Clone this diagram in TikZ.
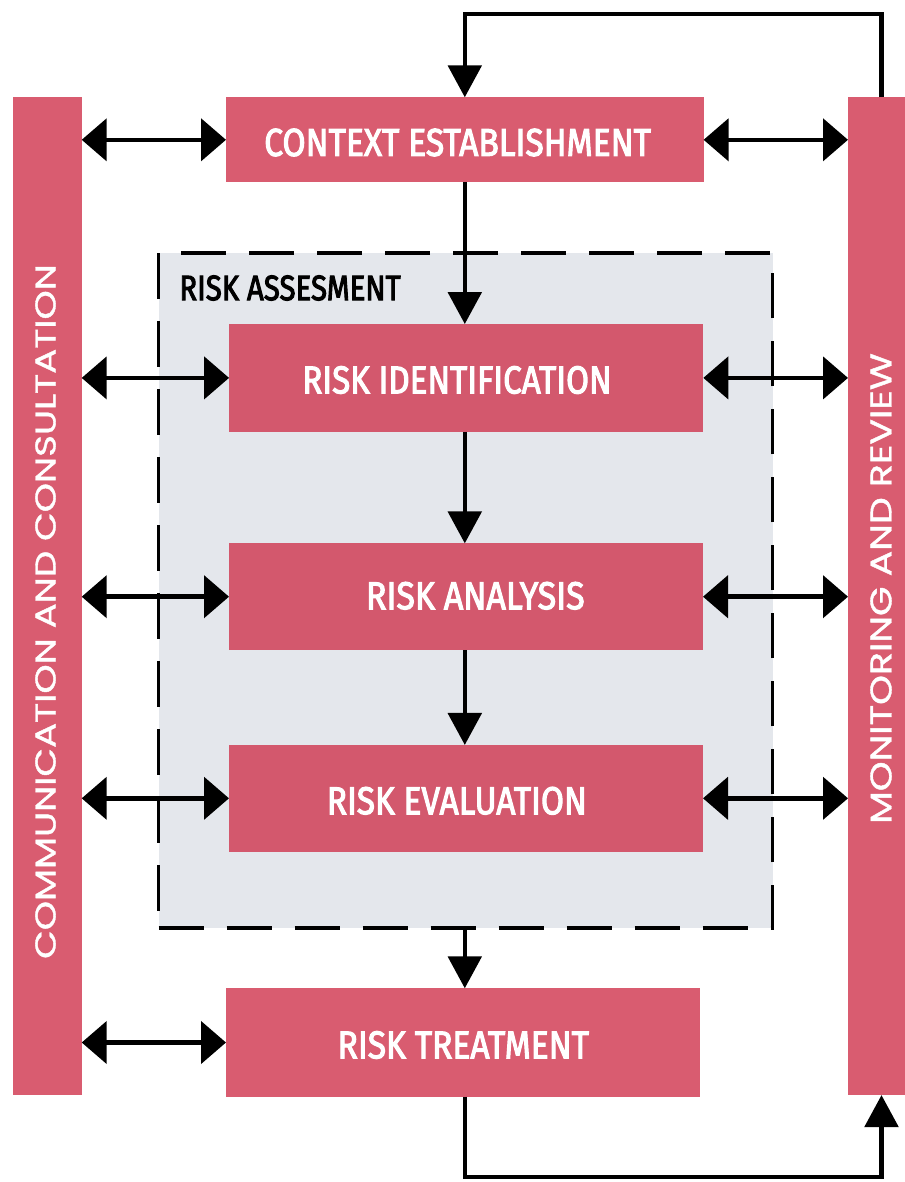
\documentclass[tikz,border=0pt]{standalone}
\usepackage{fontspec}
\setmainfont{Fira Sans}
\newfontfamily\medfont[FakeBold=3]{Fira Sans}
\newfontfamily\barfont[FakeBold=1.2]{Poppins}
\usepackage{graphicx}
\usetikzlibrary{arrows.meta}
\definecolor{rosa}{HTML}{D95C70}
\definecolor{rosain}{HTML}{D3586D}
\definecolor{grayfill}{HTML}{E4E7EC}
\begin{document}
\begin{tikzpicture}[x=0.75pt,y=-0.75pt,
  rbox/.style={fill=rosa, draw=none, inner sep=0pt, outer sep=0pt},
  ibox/.style={fill=rosain, draw=none, inner sep=0pt, outer sep=0pt},
  wtext/.style={text=white, inner sep=0pt},
  hdbl/.style={{Triangle[length=18.75pt,width=31.5pt]}-{Triangle[length=18.75pt,width=31.5pt]}, line width=3.4pt},
  varr/.style={-{Triangle[length=24pt,width=25pt]}, line width=3.4pt, line join=miter}]
\useasboundingbox (0,0) rectangle (904,1182);
% side bars
\node[rbox, minimum width=51.75pt, minimum height=748.3pt] (comm) at (47.2,596.2) {};
\node[rbox, minimum width=50.25pt, minimum height=748.3pt] (mon) at (881.5,596.2) {};
\node[rotate=90, text=white, inner sep=0pt] (tcomm) at (45.5,611.5) {\resizebox{521pt}{15.2pt}{\barfont COMMUNICATION AND CONSULTATION}};
\node[rotate=90, text=white, inner sep=0pt] (tmon) at (881,588.5) {\resizebox{353pt}{15.8pt}{\barfont MONITORING AND REVIEW}};
% assessment area
\node[fill=grayfill, draw=black, line width=2.3pt, dash pattern=on 34pt off 17pt, inner sep=0pt, outer sep=0pt,
  minimum width=460.7pt, minimum height=506.25pt] (assess) at (465.7,590.5) {};
\node[inner sep=0pt] (tassess) at (290,288) {\resizebox{166pt}{18.6pt}{\medfont RISK ASSESMENT}};
% boxes
\node[rbox, minimum width=358.2pt, minimum height=63.75pt] (ctx) at (464.8,139.8) {};
\node[ibox, minimum width=355.7pt, minimum height=80.8pt] (ident) at (466.2,377.9) {};
\node[ibox, minimum width=355.5pt, minimum height=80pt] (anal) at (466,596.7) {};
\node[ibox, minimum width=355.5pt, minimum height=80pt] (eval) at (466,798.3) {};
\node[rbox, minimum width=355.5pt, minimum height=81.3pt] (treat) at (463,1042.5) {};
\node[wtext] (tctx) at (457.6,142.5) {\resizebox{290pt}{20.4pt}{\medfont CONTEXT ESTABLISHMENT}};
\node[wtext] (tident) at (457,380) {\resizebox{232pt}{20.4pt}{\medfont RISK IDENTIFICATION}};
\node[wtext] (tanal) at (475.3,595.8) {\resizebox{164pt}{20.4pt}{\medfont RISK ANALYSIS}};
\node[wtext] (teval) at (456.8,800.8) {\resizebox{195pt}{20.4pt}{\medfont RISK EVALUATION}};
\node[wtext] (ttreat) at (463.3,1045) {\resizebox{188.5pt}{20.4pt}{\medfont RISK TREATMENT}};
% left double arrows
\draw[hdbl] (comm.east |- ctx.west) -- (ctx.west);
\draw[hdbl] (comm.east |- ident.west) -- (ident.west);
\draw[hdbl] (comm.east |- anal.west) -- (anal.west);
\draw[hdbl] (comm.east |- eval.west) -- (eval.west);
\draw[hdbl] (comm.east |- treat.west) -- (treat.west);
% right double arrows
\draw[hdbl] (ctx.east) -- (mon.west |- ctx.east);
\draw[hdbl] (ident.east) -- (mon.west |- ident.east);
\draw[hdbl] (anal.east) -- (mon.west |- anal.east);
\draw[hdbl] (eval.east) -- (mon.west |- eval.east);
% vertical flow
\draw[varr] (ctx.south) -- (ctx.south |- ident.north);
\draw[varr] (ctx.south |- ident.south) -- (ctx.south |- anal.north);
\draw[varr] (ctx.south |- anal.south) -- (ctx.south |- eval.north);
\draw[varr] (ctx.south |- assess.south) -- (ctx.south |- treat.north);
% feedback loops
\coordinate (topy) at (0,14);
\coordinate (boty) at (0,1177);
\draw[varr] (mon.north) -- (mon.north |- topy) -| (ctx.north);
\draw[varr] (ctx.south |- treat.south) -- (ctx.south |- boty) -| (mon.south);
\end{tikzpicture}
\end{document}
